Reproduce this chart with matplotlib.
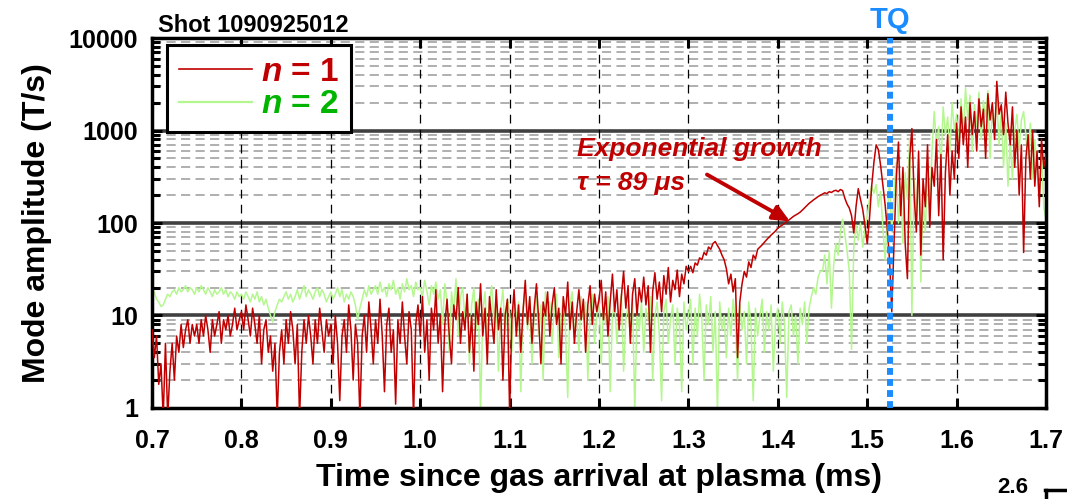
import numpy as np
import matplotlib.pyplot as plt
from matplotlib.ticker import FixedLocator, NullFormatter, LogLocator
from matplotlib.lines import Line2D

plt.rcParams['font.family'] = 'Liberation Sans'
plt.rcParams['font.weight'] = 'bold'
plt.rcParams['mathtext.fontset'] = 'custom'
plt.rcParams['mathtext.it'] = 'Liberation Sans:italic:bold'
plt.rcParams['mathtext.rm'] = 'Liberation Sans:bold'

# sampled every 2.5 us from 0.7 ms
t_start = 0.7
t_step = 0.0025

n1_amp = [
    7, 3.5, 6, 1.8, 3, 0.8, 5, 0.8, 2.5, 5, 2, 6, 4, 8, 4.5, 7, 9, 5, 8, 6,
    8, 5, 9, 6, 10, 7, 4, 9, 6, 8, 11, 5, 9, 7, 10, 6, 8, 12, 7, 9,
    11, 7, 13, 9, 6, 12, 8, 5, 10, 3, 7, 9, 4, 6, 2.5, 5, 0.8, 4, 7, 3,
    9, 5, 11, 7, 3, 8, 0.8, 4, 9, 5, 10, 6, 3, 9, 5, 12, 7, 4, 9, 6,
    8, 3, 10, 5, 1.2, 6, 9, 4, 13, 7, 2, 8, 5, 0.8, 6, 10, 4, 14, 7, 3,
    9, 5, 15, 6, 1.5, 8, 12, 4, 7, 1.1, 9, 5, 14, 6, 3, 11, 7, 0.8, 8, 13,
    6, 16, 4, 9, 2, 12, 7, 19, 5, 10, 1.5, 8, 15, 6, 3, 13, 9, 20, 5, 11,
    7, 17, 4, 10, 2.5, 14, 8, 22, 6, 12, 3, 16, 9, 5, 19, 7, 12, 2, 10, 15,
    0.9, 9, 19, 6, 13, 4, 11, 24, 8, 16, 5, 12, 22, 9, 3, 14, 10, 18, 6, 13,
    20, 8, 12, 3, 16, 10, 23, 7, 14, 5, 11, 19, 9, 15, 4, 13, 21, 8, 17, 11,
    15, 24, 9, 18, 6, 14, 28, 11, 19, 7, 16, 30, 12, 21, 5, 17, 25, 10, 20, 14,
    26, 13, 21, 4, 18, 29, 15, 23, 11, 27, 17, 33, 14, 24, 19, 31, 16, 28, 22, 34,
    30, 34, 29, 37, 35, 42, 40, 48, 45, 55, 52, 60, 63, 57, 52, 45, 40, 32, 22, 28,
    18, 25, 3.5, 14, 22, 30, 26, 38, 33, 45, 41, 52, 55, 58, 62, 66, 70, 74, 78, 82,
    88, 92, 95, 99, 104, 108, 113, 118, 122, 126, 131, 138, 146, 155, 163, 170, 178, 185, 193, 199,
    205, 212, 208, 218, 214, 222, 226, 218, 230, 224, 185, 160, 145, 120, 78, 150, 235, 180, 140, 95,
    60, 110, 250, 450, 700, 620, 420, 260, 160, 85, 40, 11, 60, 300, 750, 120, 400, 60, 25, 500,
    1050, 200, 80, 600, 45, 300, 150, 700, 90, 400, 250, 800, 120, 550, 40, 350, 900, 200, 600, 300,
    1200, 500, 1800, 700, 1400, 400, 2000, 900, 1600, 600, 2200, 1100, 1700, 500, 2500, 1300, 2000, 800, 3400, 1500,
    1900, 900, 2600, 1200, 700, 1800, 400, 1000, 200, 700, 48, 500, 900, 300, 1000, 250, 600, 150, 800, 400,
    550,
]

n2_amp = [
    16, 18, 15, 14, 12.5, 13, 15, 17, 16, 18, 19, 17, 20, 18, 19, 21, 18, 20, 19, 17,
    20, 18, 21, 19, 17, 20, 18, 16, 19, 17, 18, 20, 17, 19, 16, 18, 17, 15, 18, 16,
    17, 15, 18, 16, 14, 17, 15, 18, 14, 16, 13, 15, 12, 10, 8.5, 11, 13, 15, 14, 16,
    18, 15, 17, 14, 16, 19, 15, 18, 21, 16, 19, 17, 15, 18, 20, 16, 19, 17, 14, 16,
    18, 15, 17, 20, 16, 19, 14, 17, 15, 18, 16, 13, 9, 12, 15, 19, 16, 21, 17, 19,
    21, 17, 23, 18, 20, 16, 22, 19, 24, 17, 20, 15, 22, 18, 25, 19, 21, 16, 23, 19,
    20, 16, 24, 18, 13, 21, 17, 23, 15, 19, 8, 22, 14, 4, 18, 11, 25, 6, 16, 20,
    9, 17, 3, 13, 20, 7, 15, 0.9, 11, 18, 5, 14, 21, 8, 16, 2.5, 12, 19, 6, 15,
    11, 4, 17, 9, 14, 1.5, 12, 19, 7, 15, 3, 10, 16, 6, 13, 2, 18, 9, 14, 5,
    12, 17, 3.5, 10, 15, 7, 1.3, 13, 18, 6, 11, 4, 16, 9, 14, 2, 12, 17, 5, 10,
    15, 3, 12, 8, 16, 1.5, 10, 14, 5, 11, 17, 2.5, 9, 13, 6, 15, 0.9, 11, 7, 14,
    4, 12, 9, 16, 2, 10, 14, 6, 1.2, 11, 15, 5, 9, 13, 3, 12, 8, 1.5, 14, 7,
    10, 15, 3, 12, 6, 17, 9, 2, 13, 8, 16, 4, 11, 0.9, 14, 7, 10, 3.5, 12, 6,
    15, 9, 2, 13, 7, 11, 3, 14, 8, 1.2, 12, 6, 10, 15, 4, 11, 7, 13, 2.5, 9,
    12, 5, 14, 8, 1.3, 11, 13, 6, 10, 3, 12, 8, 14, 5, 12, 16, 20, 17, 26, 30,
    30, 45, 22, 50, 12, 35, 60, 45, 80, 110, 75, 50, 30, 4.3, 55, 95, 65, 100, 55, 85,
    120, 180, 250, 210, 260, 150, 220, 90, 40, 120, 300, 80, 200, 450, 100, 250, 60, 350, 180, 830,
    10, 300, 120, 500, 23, 200, 80, 400, 150, 600, 1600, 700, 1100, 400, 1800, 900, 1400, 600, 2000, 1000,
    1500, 700, 2200, 900, 2900, 1300, 2400, 600, 1900, 1100, 2600, 800, 2100, 1400, 2700, 500, 1800, 1000, 2300, 700,
    1600, 400, 1200, 250, 800, 300, 1000, 1500, 600, 1300, 1600, 900, 500, 1200, 300, 800, 400, 200, 600, 150,
    108,
]

time_ms = t_start + t_step * np.arange(len(n1_amp))

x_ticks = [0.7, 0.8, 0.9, 1.0, 1.1, 1.2, 1.3, 1.4, 1.5, 1.6, 1.7]
y_ticks = [1, 10, 100, 1000, 10000]
tq_time = 1.526

red = '#c00000'
green_line = '#b5f78f'
green_text = '#00b400'
blue = '#1a8cff'

fig = plt.figure(figsize=(10.67, 4.99), dpi=100)
ax = fig.add_axes([0.1425, 0.1824, 0.8378, 0.7414])

# grid
for yv in y_ticks[1:-1]:
    ax.axhline(yv, color='#404040', lw=2.6, zorder=1)
for dec in [1, 10, 100, 1000]:
    for m in range(2, 10):
        ax.axhline(dec * m, color='#9a9a9a', lw=1.1, ls=(0, (6, 3.5)), zorder=1)
for xv in x_ticks[1:-1]:
    ax.axvline(xv, color='black', lw=0.9, ls=(0, (7, 5)), zorder=1)

ax.plot(time_ms, n2_amp, color=green_line, lw=1.1, zorder=2)
ax.plot(time_ms, n1_amp, color=red, lw=1.1, zorder=3)

ax.axvline(tq_time, color=blue, lw=4.3, ls=(0, (1.15, 0.7)), zorder=4)

ax.set_yscale('log')
ax.set_xlim(0.7, 1.7)
ax.set_ylim(1, 10000)
ax.set_xticks(x_ticks)
ax.set_xticklabels([f'{v:.1f}' for v in x_ticks])
ax.yaxis.set_major_locator(FixedLocator(y_ticks))
ax.set_yticklabels([str(v) for v in y_ticks])
ax.yaxis.set_minor_locator(LogLocator(base=10, subs=np.arange(2, 10)))
ax.yaxis.set_minor_formatter(NullFormatter())
ax.tick_params(which='both', direction='in', top=True, right=True,
               labelsize=18, width=2.2)
ax.tick_params(axis='x', pad=15)
ax.tick_params(axis='y', pad=10)
ax.tick_params(which='major', length=7)
ax.tick_params(which='minor', length=6)
for s in ax.spines.values():
    s.set_linewidth(2.5)

ax.set_xlabel('Time since gas arrival at plasma (ms)', fontsize=23, fontweight='bold')
ax.set_ylabel('Mode amplitude (T/s)', fontsize=23, fontweight='bold')
ax.xaxis.set_label_coords(0.5, -0.15)
ax.yaxis.set_label_coords(-0.112, 0.5)
ax.text(0.007, 1.016, 'Shot 1090925012', transform=ax.transAxes, fontsize=17,
        ha='left', va='baseline')
ax.text(tq_time, 1.027, 'TQ', transform=ax.get_xaxis_transform(), color=blue,
        fontsize=21, ha='center', va='baseline')

handles = [Line2D([], [], color=red, lw=1.2), Line2D([], [], color=green_line, lw=1.6)]
leg = ax.legend(handles, ['$n$ = 1', '$n$ = 2'], loc='upper left',
                bbox_to_anchor=(0.017, 0.981), borderaxespad=0, fontsize=24,
                handlelength=2.2, fancybox=False, framealpha=1,
                edgecolor='black', borderpad=0.35, labelspacing=0.05,
                handletextpad=0.27)
leg.get_frame().set_linewidth(2.2)
leg.get_texts()[0].set_color(red)
leg.get_texts()[1].set_color(green_text)

ax.annotate('', xy=(1.4137, 104), xytext=(1.3208, 334),
            arrowprops=dict(arrowstyle='-|>,head_length=1.0,head_width=0.45',
                            color=red, lw=2.8, shrinkA=0, shrinkB=0), zorder=5)
ax.text(1.175, 524, 'Exponential growth', color=red, fontsize=19,
        style='italic', ha='left', va='baseline', zorder=5)
ax.text(1.175, 230, 'τ = 89 μs', color=red, fontsize=19,
        style='italic', ha='left', va='baseline', zorder=5)

# corner of the next panel below
fig.text(0.964, 0.003, '2.6', fontsize=16, ha='right', va='bottom')
fig.add_artist(Line2D([0.979, 1.0], [0.018, 0.018], color='black', lw=2.5,
                      transform=fig.transFigure))
fig.add_artist(Line2D([0.980, 0.980], [0.0, 0.018], color='black', lw=2.5,
                      transform=fig.transFigure))

fig.savefig('out.png', dpi=100)
